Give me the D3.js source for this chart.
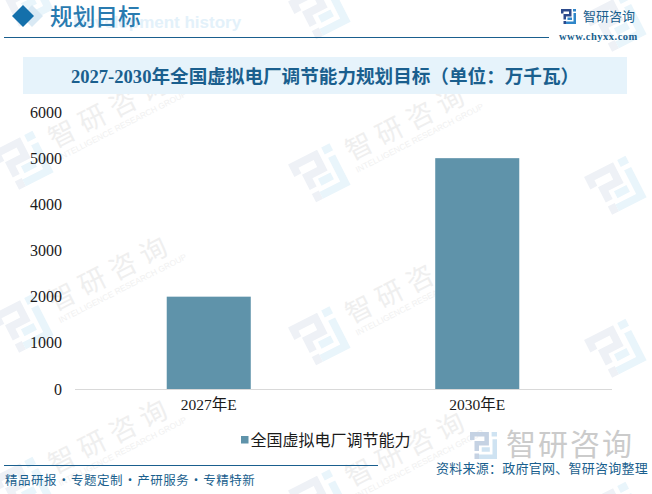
<!DOCTYPE html>
<html>
<head>
<meta charset="utf-8">
<script src="https://cdn.jsdelivr.net/npm/d3@7"></script>
<style>
  html, body { margin: 0; padding: 0; background: #fff; }
  svg { display: block; }
</style>
</head>
<body>
<svg id="chart" width="652" height="494"></svg>
<script>
const categories = ["2027年E", "2030年E"];
const values = [2000, 5000];
const yTicks = [0, 1000, 2000, 3000, 4000, 5000, 6000];
const seriesName = "全国虚拟电厂调节能力";
const pageTitle = "规划目标";
const chartTitle = "2027-2030年全国虚拟电厂调节能力规划目标（单位：万千瓦）";
const footerLeft = "精品研报 · 专题定制 · 产研服务 · 专精特新";
const footerRight = "资料来源：政府官网、智研咨询整理";
const brandName = "智研咨询";
const brandEn = "INTELLIGENCE RESEARCH GROUP";
const brandUrl = "www.chyxx.com";
// centres of the faint background stamps, text only where it lands on the page
const stampX = [22, 319, 615];
const stampY = [-1, 162, 325, 488];

const serif = "'Liberation Serif', 'Noto Sans CJK SC', serif";
const cjk = "'Noto Sans CJK SC', sans-serif";
const blue = "#1a5f8e";

const svg = d3.select("#chart");

// logo glyph, drawn in a 30x30 box
function logo(g, c1, c2) {
  g.append("path").attr("fill", c1)
    .attr("d", "M0 0H21V15H10V21H5V10H16V5H5V9H0ZM5 24H10V30H5Z");
  g.append("path").attr("fill", c2)
    .attr("d", "M24 0H30V5H24ZM24 8H30V30H10V25H25V8ZM13 17H22V22H13Z");
}

// watermark stamps
const stamps = svg.append("g").attr("class", "stamps");
stampY.forEach((y, row) => {
  stampX.forEach((x, col) => {
    const s = stamps.append("g").attr("transform", `translate(${x},${y + col * 12.5}) rotate(-27)`);
    logo(s.append("g").attr("transform", "translate(-23,-23) scale(1.55)"), "#eef1f6", "#e9f5fb");
    if (row === 0 || col === 2) return;
    s.append("text").attr("x", 35).attr("y", 3)
      .attr("font-family", cjk).attr("font-size", 27).attr("letter-spacing", 7)
      .attr("fill", "#efefef").text(brandName);
    s.append("text").attr("x", 35).attr("y", 16)
      .attr("font-family", "'Liberation Sans', sans-serif").attr("font-size", 8.4)
      .attr("fill", "#f1f1f1").text(brandEn);
  });
});

// header
svg.append("text").attr("x", 73).attr("y", 28)
  .attr("font-family", "'Liberation Sans', sans-serif").attr("font-weight", 700).attr("font-size", 17)
  .attr("fill", "#e3f1fa").text("Development history");
svg.append("path").attr("d", "M32 5L43 16L32 27L21 16Z").attr("fill", "#d9e9f4");
svg.append("path").attr("d", "M23 5L34 16L23 27L12 16Z").attr("fill", "#1470ab");
svg.append("text").attr("x", 50).attr("y", 24.5)
  .attr("font-family", cjk).attr("font-size", 22.7).attr("font-weight", 500).attr("fill", "#2a7bb0").text(pageTitle);
svg.append("line").attr("x1", 4).attr("x2", 549).attr("y1", 37.5).attr("y2", 37.5)
  .attr("stroke", blue).attr("stroke-width", 1);

logo(svg.append("g").attr("transform", "translate(561,9) scale(0.5)"), "#2c4a8c", "#2f86c9");
svg.append("text").attr("x", 583).attr("y", 21)
  .attr("font-family", cjk).attr("font-size", 13)
  .attr("fill", blue).text(brandName);
svg.append("text").attr("x", 559).attr("y", 40)
  .attr("font-family", serif).attr("font-weight", 700).attr("font-size", 10.5).attr("letter-spacing", 0.5)
  .attr("fill", blue).text(brandUrl);

// title band
svg.append("rect").attr("x", 23).attr("y", 57).attr("width", 604).attr("height", 37).attr("fill", "#e6f3fb");
svg.append("text").attr("x", 325).attr("y", 83).attr("text-anchor", "middle")
  .attr("font-family", serif).attr("font-weight", 700).attr("font-size", 18.6)
  .attr("fill", blue).text(chartTitle);

// plot
const x = d3.scaleBand().domain(categories).range([74.5, 611.5]);
const y = d3.scaleLinear().domain([0, 6000]).range([389, 112]);
const barWidth = x.bandwidth() * 0.313;

svg.append("g").selectAll("rect").data(categories).join("rect")
  .attr("x", d => x(d) + (x.bandwidth() - barWidth) / 2)
  .attr("y", (d, i) => y(values[i]))
  .attr("width", barWidth)
  .attr("height", (d, i) => y(0) - y(values[i]))
  .attr("fill", "#5f93aa");

const yAxis = svg.append("g").attr("transform", "translate(74,0)")
  .call(d3.axisLeft(y).tickValues(yTicks).tickFormat(d3.format("d")).tickSize(0).tickPadding(12));
yAxis.select(".domain").remove();
yAxis.selectAll("text").attr("font-family", serif).attr("font-size", 16).attr("fill", "#1a1a1a");

const xAxis = svg.append("g").attr("transform", "translate(0,389)")
  .call(d3.axisBottom(x).tickSize(0).tickPadding(10));
xAxis.select(".domain").attr("stroke", "#d9d9d9").attr("stroke-width", 1);
xAxis.selectAll("text").attr("font-family", serif).attr("font-size", 15.5).attr("fill", "#1a1a1a");

// legend
svg.append("rect").attr("x", 241).attr("y", 436).attr("width", 7.5).attr("height", 7.5).attr("fill", "#5f93aa");
svg.append("text").attr("x", 250.5).attr("y", 445.5)
  .attr("font-family", cjk).attr("font-size", 16).attr("fill", "#1a1a1a").text(seriesName);

// footer
logo(svg.append("g").attr("transform", "translate(470,432) scale(0.9)"), "#c5d2e3", "#cfe3f2");
svg.append("text").attr("x", 506).attr("y", 455)
  .attr("font-family", cjk).attr("font-size", 30).attr("letter-spacing", 2)
  .attr("fill", "#cbcbcb").text(brandName);
svg.append("line").attr("x1", 4).attr("x2", 378).attr("y1", 465.5).attr("y2", 465.5)
  .attr("stroke", blue).attr("stroke-width", 1);
svg.append("text").attr("x", 5).attr("y", 485)
  .attr("font-family", cjk).attr("font-size", 12.5).attr("letter-spacing", 0.5).attr("word-spacing", -2.75)
  .attr("fill", blue).text(footerLeft);
svg.append("text").attr("x", 436).attr("y", 472.5)
  .attr("font-family", cjk).attr("font-size", 13).attr("letter-spacing", 0.25)
  .attr("fill", blue).text(footerRight);
</script>
</body>
</html>
